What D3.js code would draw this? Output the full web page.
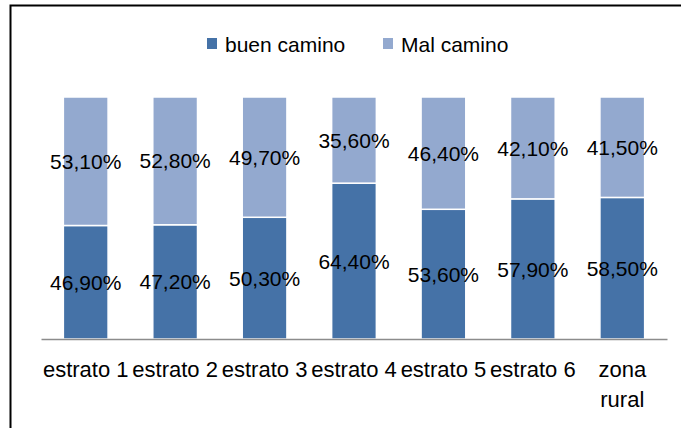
<!DOCTYPE html>
<html>
<head>
<meta charset="utf-8">
<script src="https://cdn.jsdelivr.net/npm/d3@7"></script>
<style>
  body { margin: 0; background: #fff; }
  text { font-family: 'Liberation Sans', Arial, sans-serif; fill: #000; }
</style>
</head>
<body>
<div id="container"></div>
<script>
// data
let categories = ['estrato 1', 'estrato 2', 'estrato 3', 'estrato 4', 'estrato 5', 'estrato 6', 'zona rural'];
let buenCamino = [46.9, 47.2, 50.3, 64.4, 53.6, 57.9, 58.5];
let malCamino = [53.1, 52.8, 49.7, 35.6, 46.4, 42.1, 41.5];
let seriesNames = ['buen camino', 'Mal camino'];
let seriesColors = ['#4572a7', '#93a9cf'];

let width = 681, height = 428;
let fontSize = 21;

let viz = d3.select('#container')
    .append('svg')
    .attr('width', width)
    .attr('height', height);

// frame (left + top edges only, as in the picture)
viz.append('path')
    .attr('d', 'M 10.5 428 L 10.5 5.5 L 681 5.5')
    .attr('fill', 'none')
    .attr('stroke', '#000')
    .attr('stroke-width', 2);

let rows = categories.map((c, i) => ({ cat: c, buen: buenCamino[i], mal: malCamino[i] }));
let stacked = d3.stack().keys(['buen', 'mal'])(rows);

let x = d3.scaleBand().domain(categories).range([41, 667]).paddingInner(0.5).paddingOuter(0.25);
let y = d3.scaleLinear().domain([0, 100]).range([339, 97]);
let color = d3.scaleOrdinal().domain(['buen', 'mal']).range(seriesColors);

let es = d3.formatLocale({ decimal: ',', thousands: '.', grouping: [3], currency: ['', '€'] });
let fmt = v => es.format('.2f')(v) + '%';

// bars
let layers = viz.selectAll('.layer').data(stacked).enter()
    .append('g')
    .attr('class', 'layer')
    .attr('fill', d => color(d.key));

layers.selectAll('rect').data(d => d).enter()
    .append('rect')
    .attr('x', d => x(d.data.cat))
    .attr('y', d => y(d[1]))
    .attr('width', x.bandwidth())
    .attr('height', d => y(d[0]) - y(d[1]))
    .attr('stroke', '#fff')
    .attr('stroke-width', 1.5);

// value labels, centred in each segment
layers.selectAll('text').data(d => d).enter()
    .append('text')
    .attr('x', d => x(d.data.cat) + x.bandwidth() / 2)
    .attr('y', d => (y(d[0]) + y(d[1])) / 2)
    .attr('dy', '0.36em')
    .attr('text-anchor', 'middle')
    .style('font-size', fontSize + 'px')
    .text(d => fmt(d[1] - d[0]));

// x axis
let xAxis = viz.append('g')
    .attr('transform', 'translate(0,339)')
    .call(d3.axisBottom(x).tickSize(0).tickPadding(0));

xAxis.select('.domain').attr('stroke', '#8c8c8c').attr('stroke-width', 1.5);
xAxis.selectAll('text')
    .style('font-size', '22px')
    .attr('font-family', null)
    .attr('y', 38)
    .attr('dy', 0)
    .call(wrap, x.step());

function wrap(sel, w) {
    sel.each(function () {
        let t = d3.select(this);
        if (this.getComputedTextLength() <= w) return;
        let words = t.text().split(' ');
        t.text(null);
        words.forEach((word, i) => {
            t.append('tspan')
                .attr('x', 0)
                .attr('dy', i === 0 ? 0 : 30)
                .text(word);
        });
    });
}

// legend
let legendX = [207, 383];
let legend = viz.selectAll('.legend').data(seriesNames).enter()
    .append('g')
    .attr('class', 'legend')
    .attr('transform', (d, i) => 'translate(' + legendX[i] + ',38)');

legend.append('rect')
    .attr('width', 10)
    .attr('height', 11)
    .attr('fill', (d, i) => seriesColors[i]);

legend.append('text')
    .attr('x', 18)
    .attr('y', 14)
    .style('font-size', fontSize + 'px')
    .text(d => d);
</script>
</body>
</html>
